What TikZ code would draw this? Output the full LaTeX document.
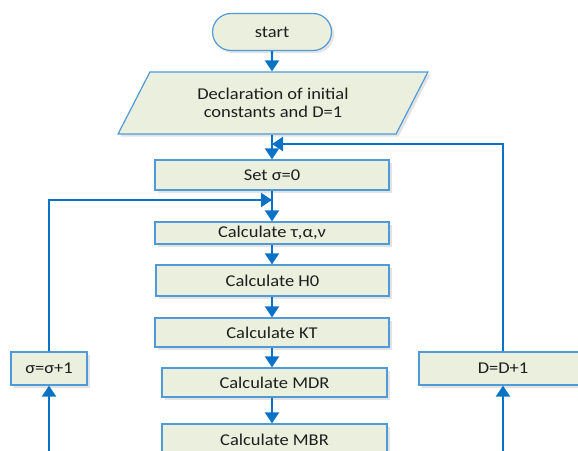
\documentclass[tikz,border=0pt]{standalone}
\usepackage{fontspec}
\setmainfont{Carlito}[FakeStretch=1.12]
\usetikzlibrary{shapes.geometric,shapes.misc,arrows.meta,shadows}
\definecolor{boxfill}{RGB}{235,239,222}
\definecolor{boxline}{RGB}{80,155,215}
\definecolor{flow}{RGB}{10,114,197}
\definecolor{txt}{RGB}{30,30,30}
\tikzset{
  base/.style={draw=boxline, line width=1.2pt, fill=boxfill, text=txt,
    font=\fontsize{16.5}{18}\selectfont, inner sep=0pt,
    drop shadow={opacity=0.22, shadow xshift=2.5pt, shadow yshift=-2.5pt}},
  procbox/.style={base, rectangle},
  termbox/.style={base, rounded rectangle},
  iobox/.style={base, trapezium, trapezium left angle=56.5, trapezium right angle=123.5,
    trapezium stretches=true, align=center},
  flowline/.style={draw=flow, line width=2.2pt},
  flowarrow/.style={flowline, -{Triangle[width=14pt,length=11pt]}}
}
\begin{document}
\begin{tikzpicture}[x=1pt,y=-1pt]
\useasboundingbox (0,0) rectangle (578,450);
\clip (0,0) rectangle (578,450);
% nodes
\node[termbox, minimum width=119pt, minimum height=37pt] (start) at (272,32) {start};
\node[iobox, minimum width=310pt, minimum height=62pt] (decl) at (273,103)
  {Declaration of initial\\constants and D=1};
\node[procbox, minimum width=234pt, minimum height=30pt] (setsig) at (272,175) {Set σ=0};
\node[procbox, minimum width=234pt, minimum height=22pt] (tau) at (272,233) {Calculate τ,α,ν};
\node[procbox, minimum width=233pt, minimum height=31pt] (hzero) at (272.5,280.5) {Calculate H0};
\node[procbox, minimum width=234pt, minimum height=29pt] (kt) at (272,332.5) {Calculate KT};
\node[procbox, minimum width=225pt, minimum height=29pt] (mdr) at (274.5,382.5) {Calculate MDR};
\node[procbox, minimum width=225pt, minimum height=31pt] (mbr) at (274.5,439.5) {Calculate MBR};
\node[procbox, minimum width=76pt, minimum height=33pt] (sigone) at (49,368.5) {σ=σ+1};
\node[procbox, minimum width=168pt, minimum height=33pt] (dd) at (503,368.5) {D=D+1};
% junction points and free ends
\coordinate (jd) at (272,144);
\coordinate (js) at (272,200);
\coordinate (bl) at (49,460);
\coordinate (br) at (503,460);
% connectors
\draw[flowarrow] (start) -- (start.south |- decl.north);
\draw[flowarrow] (decl.south -| start.south) -- (setsig.north -| start.south);
\draw[flowarrow] (setsig.south -| start.south) -- (tau.north -| start.south);
\draw[flowarrow] (tau.south -| start.south) -- (hzero.north -| start.south);
\draw[flowarrow] (hzero.south -| start.south) -- (kt.north -| start.south);
\draw[flowarrow] (kt.south -| start.south) -- (mdr.north -| start.south);
\draw[flowarrow] (mdr.south -| start.south) -- (mbr.north -| start.south);
\draw[flowarrow] (sigone.north) |- (js);
\draw[flowarrow] (dd.north) |- (jd);
\draw[flowarrow] (bl) -- (sigone.south);
\draw[flowarrow] (br) -- (dd.south);
\end{tikzpicture}
\end{document}
